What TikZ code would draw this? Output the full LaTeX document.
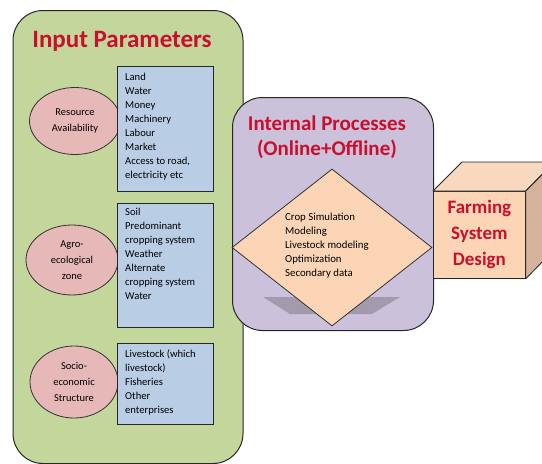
\documentclass[tikz,border=0pt]{standalone}
\usepackage{fontspec}
\setmainfont{Carlito}
\usetikzlibrary{positioning,shapes.geometric}

\definecolor{inputgreen}{HTML}{C3D69B}
\definecolor{procpurple}{HTML}{CCC1DA}
\definecolor{factorpink}{HTML}{E6B9B8}
\definecolor{listblue}{HTML}{B9CDE5}
\definecolor{peach}{HTML}{FBD5B5}
\definecolor{peachtop}{HTML}{F8D8BE}
\definecolor{peachside}{HTML}{D4B29B}
\definecolor{titlered}{HTML}{C8102E}

\begin{document}
\begin{tikzpicture}[
  x=1pt, y=-1pt,
  panel/.style={draw=black!85, line width=1pt, rounded corners=30pt},
  factor/.style={ellipse, draw=black!80, line width=0.8pt, fill=factorpink, align=center,
    inner sep=0pt, font=\fontsize{10.5}{16}\selectfont},
  listbox/.style={draw=black!85, line width=0.8pt, fill=listblue, anchor=north west, minimum width=96pt},
  listtext/.style={anchor=north west, align=left, inner sep=0pt, font=\fontsize{10.6}{14}\selectfont},
  heading/.style={text=titlered, font=\fontsize{21}{25}\selectfont\bfseries, align=center}
]
\useasboundingbox (0,0) rectangle (542,464);

% input parameters panel
\node[panel, fill=inputgreen, minimum width=230pt, minimum height=453pt, anchor=north west] (input) at (12.5,10) {};
\node[heading, font=\fontsize{25}{28}\selectfont\bfseries] (inputtitle) at (122,41) {Input Parameters};

\node[factor, minimum width=91pt, minimum height=67pt] (resource) at (75,121) {Resource\\Availability};
\node[listbox, minimum height=125pt] (resbox) at (117,66) {};
\node[listtext] (reslist) at ([xshift=8pt, yshift=-7pt]resbox.north west)
  {Land\\Water\\Money\\Machinery\\Labour\\Market\\Access to road,\\electricity etc};

\node[factor, minimum width=92pt, minimum height=70pt] (agro) at (72,260) {Agro-\\ecological\\zone};
\node[listbox, minimum height=124pt] (agrobox) at (117,203) {};
\node[listtext] (agrolist) at ([xshift=8pt, yshift=-5pt]agrobox.north west)
  {Soil\\Predominant\\cropping system\\Weather\\Alternate\\cropping system\\Water};

\node[factor, minimum width=88pt, minimum height=72pt] (socio) at (74,382) {Socio-\\economic\\Structure};
\node[listbox, minimum height=81pt] (sociobox) at (117,343) {};
\node[listtext] (sociolist) at ([xshift=8pt, yshift=-7pt]sociobox.north west)
  {Livestock (which\\livestock)\\Fisheries\\Other\\enterprises};

% internal processes panel
\node[panel, fill=procpurple, minimum width=201pt, minimum height=233pt, anchor=north west] (process) at (232,97) {};
\node[heading, font=\fontsize{21}{25}\selectfont\bfseries] (processtitle) at (327,137) {Internal Processes\\(Online+Offline)};
\fill[black, opacity=0.2] (263,297) -- (400,297) -- (372,314) -- (290,314) -- cycle;
\node[diamond, draw=black!80, line width=0.8pt, fill=peach, minimum width=200pt, minimum height=157pt,
  inner sep=0pt] (methods) at (332,247.5) {};
\node[listtext, font=\fontsize{10.8}{14}\selectfont] (methodlist) at (285,213)
  {Crop Simulation\\Modeling\\Livestock modeling\\Optimization\\Secondary data};

% farming system design cube
\node[draw=black!85, line width=0.8pt, fill=peach, minimum width=92pt, minimum height=87pt, anchor=north west,
  heading, font=\fontsize{19}{26}\selectfont\bfseries] (design) at (433,191) {Farming\\System\\Design};
\draw[black!85, line width=0.8pt, fill=peachtop, line join=round]
  (design.north west) -- ++(29,-29) -- ++(92,0) -- (design.north east) -- cycle;
\draw[black!85, line width=0.8pt, fill=peachside, line join=round]
  (design.north east) -- ++(29,-29) -- ++(0,87) -- (design.south east) -- cycle;
\end{tikzpicture}
\end{document}
